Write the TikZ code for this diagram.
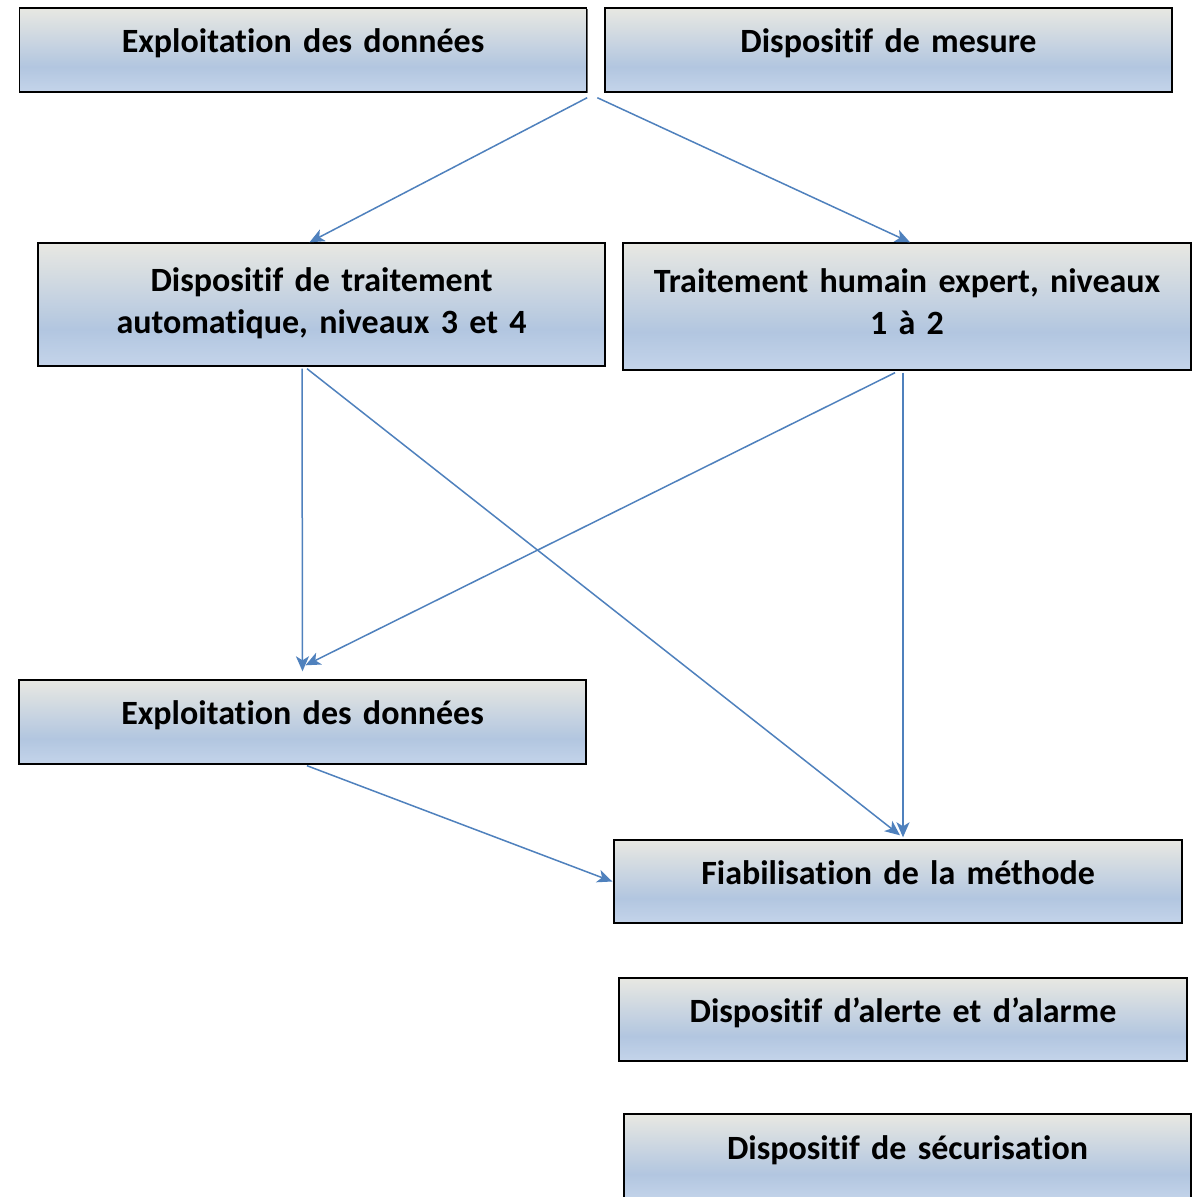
\documentclass[tikz,border=0pt]{standalone}
\usepackage{fontspec}
\setmainfont{Carlito}[Ligatures=NoCommon]
\usetikzlibrary{arrows.meta,shadows}
\definecolor{arrowblue}{RGB}{79,129,189}
\definecolor{shtop}{RGB}{232,232,226}
\definecolor{shmid}{RGB}{178,198,224}
\definecolor{shbot}{RGB}{196,212,234}
\pgfdeclareverticalshading{boxshade}{100bp}{color(0bp)=(shbot); color(25bp)=(shbot); color(40bp)=(shmid); color(75bp)=(shtop); color(100bp)=(shtop)}
\tikzset{
  box/.style={draw=black, line width=1.4pt, shading=boxshade, minimum width=567pt,
    minimum height=84pt, inner sep=0pt, align=center, text width=560pt,
    font=\fontsize{34}{42}\selectfont\bfseries, text depth=18pt,
    drop shadow={shadow xshift=1.2pt, shadow yshift=-1.2pt, fill=black!60, opacity=1}},
  conn/.style={draw=arrowblue, line width=1.5pt, -{Stealth[length=15pt,width=13pt,inset=4pt]}}
}
\begin{document}
\begin{tikzpicture}[x=1pt,y=-1pt]
\useasboundingbox[fill=white] (0,0) rectangle (1197,1197);
\node[box] (b1) at (303,50) {Exploitation des données};
\node[box] (b2) at (888.5,50) {Dispositif de mesure};
\node[box, minimum height=123pt, text depth=50pt] (b3) at (321.5,304.5) {Dispositif de traitement\\automatique, niveaux 3 et 4};
\node[box, minimum width=568pt, minimum height=127pt, text depth=52pt] (b4) at (907,306.5) {Traitement humain expert, niveaux\\1 à 2};
\node[box] (b5) at (302.5,722) {Exploitation des données};
\node[box, minimum width=568pt, minimum height=83pt] (b6) at (898,881.5) {Fiabilisation de la méthode};
\node[box, minimum width=568pt, minimum height=83pt] (b7) at (903,1019.5) {Dispositif d’alerte et d’alarme};
\node[box, minimum width=567pt, minimum height=86pt] (b8) at (907.5,1157) {Dispositif de sécurisation};
\draw[conn] ([yshift=-5pt]b1.south east) -- ([xshift=-12pt]b3.north);
\draw[conn] ([xshift=-7pt,yshift=-5pt]b2.south west) -- ([xshift=3pt]b4.north);
\draw[conn] ([xshift=-19.5pt,yshift=-2pt]b3.south) -- ([yshift=8pt]b5.north);
\draw[conn] ([xshift=-14.5pt,yshift=-2pt]b3.south) -- ([xshift=2pt,yshift=4pt]b6.north);
\draw[conn] ([xshift=-12pt,yshift=-2pt]b4.south) -- ([xshift=3pt,yshift=14pt]b5.north);
\draw[conn] ([xshift=-4pt,yshift=-2pt]b4.south) -- ([xshift=5pt,yshift=2pt]b6.north);
\draw[conn] ([xshift=4.5pt,yshift=-1pt]b5.south) -- ([xshift=-1pt]b6.west);
\end{tikzpicture}
\end{document}
